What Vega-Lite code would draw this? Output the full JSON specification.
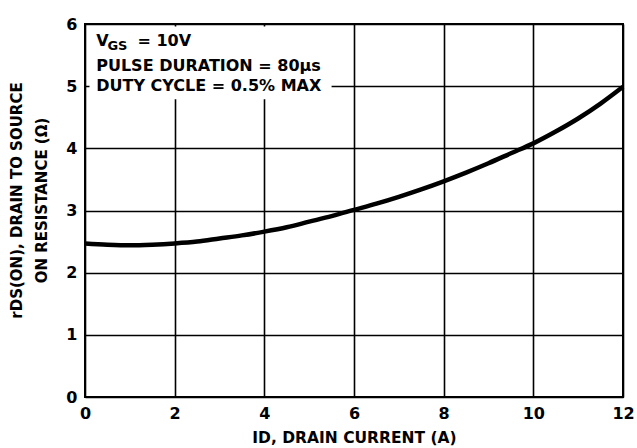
{
  "$schema": "https://vega.github.io/schema/vega-lite/v6.json",
  "width": 538,
  "height": 373,
  "autosize": "none",
  "padding": {"left": 85, "top": 24, "right": 14, "bottom": 51},
  "background": "white",
  "config": {
    "font": "DejaVu Sans",
    "view": {"stroke": "black", "strokeWidth": 2},
    "axis": {
      "labelFont": "DejaVu Sans",
      "labelFontWeight": "bold",
      "labelFontSize": 16,
      "labelColor": "black",
      "titleFont": "DejaVu Sans",
      "titleFontWeight": "bold",
      "titleFontSize": 15,
      "titleColor": "black",
      "gridColor": "black",
      "gridWidth": 1.6,
      "gridOpacity": 1,
      "domain": false,
      "ticks": false
    }
  },
  "datasets": {
    "curve": [
      {"id": 0, "r": 2.47}, {"id": 0.5, "r": 2.45}, {"id": 1, "r": 2.44},
      {"id": 1.5, "r": 2.45}, {"id": 2, "r": 2.47}, {"id": 2.5, "r": 2.5},
      {"id": 3, "r": 2.55}, {"id": 3.5, "r": 2.6}, {"id": 4, "r": 2.66},
      {"id": 4.5, "r": 2.73}, {"id": 5, "r": 2.82}, {"id": 5.5, "r": 2.91},
      {"id": 6, "r": 3.01}, {"id": 6.5, "r": 3.11}, {"id": 7, "r": 3.22},
      {"id": 7.5, "r": 3.34}, {"id": 8, "r": 3.47}, {"id": 8.5, "r": 3.61},
      {"id": 9, "r": 3.76}, {"id": 9.5, "r": 3.92}, {"id": 10, "r": 4.08},
      {"id": 10.5, "r": 4.27}, {"id": 11, "r": 4.48}, {"id": 11.5, "r": 4.72},
      {"id": 12, "r": 4.99}
    ],
    "box": [{"x1": 0.1, "x2": 5.5, "y1": 4.79, "y2": 5.96}],
    "notes": [
      {"x": 0.25, "y": 5.65, "t": "V", "s": 16},
      {"x": 0.5, "y": 5.58, "t": "GS", "s": 13},
      {"x": 1.17, "y": 5.65, "t": "= 10V", "s": 16},
      {"x": 0.25, "y": 5.24, "t": "PULSE DURATION = 80μs", "s": 16},
      {"x": 0.25, "y": 4.93, "t": "DUTY CYCLE = 0.5% MAX", "s": 16}
    ]
  },
  "layer": [
    {
      "data": {"name": "curve"},
      "mark": {"type": "line", "color": "black", "strokeWidth": 4.5, "interpolate": "monotone"},
      "encoding": {
        "x": {
          "field": "id", "type": "quantitative",
          "scale": {"domain": [0, 12], "nice": false},
          "axis": {"values": [0, 2, 4, 6, 8, 10, 12], "format": "d", "labelPadding": 8, "title": "ID, DRAIN CURRENT (A)", "titleFontSize": 15.5, "titlePadding": 9, "labelFlush": false}
        },
        "y": {
          "field": "r", "type": "quantitative",
          "scale": {"domain": [0, 6], "nice": false},
          "axis": {"values": [0, 1, 2, 3, 4, 5, 6], "format": "d", "labelPadding": 8, "title": ["rDS(ON), DRAIN TO SOURCE", "ON RESISTANCE (Ω)"], "titlePadding": 16, "titleLineHeight": 25, "titleY": 176, "labelFlush": false}
        }
      }
    },
    {
      "data": {"name": "box"},
      "mark": {"type": "rect", "color": "white", "opacity": 1},
      "encoding": {
        "x": {"field": "x1", "type": "quantitative"},
        "x2": {"field": "x2"},
        "y": {"field": "y1", "type": "quantitative"},
        "y2": {"field": "y2"}
      }
    },
    {
      "data": {"name": "notes"},
      "mark": {"type": "text", "align": "left", "baseline": "alphabetic", "fontWeight": "bold", "color": "black", "font": "DejaVu Sans"},
      "encoding": {
        "x": {"field": "x", "type": "quantitative"},
        "y": {"field": "y", "type": "quantitative"},
        "text": {"field": "t"},
        "size": {"field": "s", "type": "quantitative", "scale": null, "legend": null}
      }
    }
  ]
}
